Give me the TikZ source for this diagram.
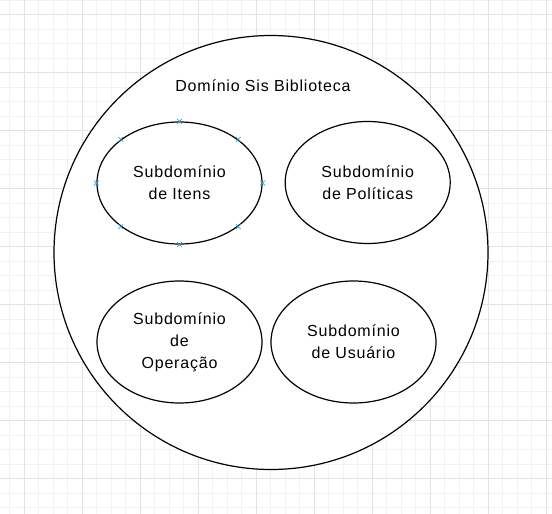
\documentclass[tikz,border=0pt]{standalone}
\usepackage{fontspec}
\setmainfont{Liberation Sans}[LetterSpace=5]
\usetikzlibrary{shapes.geometric,shapes.misc}
\definecolor{gridminor}{HTML}{F2F2F2}
\definecolor{gridmajor}{HTML}{E3E3E3}
\definecolor{markblue}{HTML}{3AA0DC}
\tikzset{
  outer/.style={circle,draw=black,line width=1.2pt,fill=white,minimum size=434pt,inner sep=0pt},
  sub/.style={ellipse,draw=black,line width=1.2pt,fill=white,minimum width=165pt,minimum height=122pt,inner sep=0pt,align=center,font=\fontsize{16}{22}\selectfont},
  title/.style={font=\fontsize{16}{22}\selectfont,anchor=base,inner sep=0pt},
  xmark/.style={cross out,draw=markblue,line width=0.7pt,minimum size=4pt,inner sep=0pt}
}
\begin{document}
\begin{tikzpicture}[x=1pt,y=-1pt]
\useasboundingbox (0,0) rectangle (552,514);
\fill[white] (0,0) rectangle (552,514);
% grid
\foreach \i in {0,...,38} {
  \draw[gridminor,line width=0.8pt] ({9.5+14.5*\i},0) -- ({9.5+14.5*\i},514);
  \draw[gridminor,line width=0.8pt] (0,{14.5*\i}) -- (552,{14.5*\i});
}
\foreach \i in {0,...,9} {
  \draw[gridmajor,line width=0.9pt] ({24+58*\i},0) -- ({24+58*\i},514);
  \draw[gridmajor,line width=0.9pt] (0,{14.5+58*\i}) -- (552,{14.5+58*\i});
}
% outer domain
\node[outer] (dom) at (271,252.5) {};
\node[title] (domt) at (263,91.7) {Domínio Sis Biblioteca};
% subdomains
\node[sub] (it) at (179.5,183) {Subdomínio\\de Itens};
\node[sub] (pol) at (367.7,182.5) {Subdomínio\\de Políticas};
\node[sub] (op) at (179.5,342) {Subdomínio\\de\\Operação};
\node[sub] (us) at (353.5,342) {Subdomínio\\de Usuário};
% connection point marks
\foreach \a [count=\k] in {north,north east,east,south east,south,south west,west,north west} {
  \node[xmark] (m\k) at (it.\a) {};
}
\end{tikzpicture}
\end{document}
